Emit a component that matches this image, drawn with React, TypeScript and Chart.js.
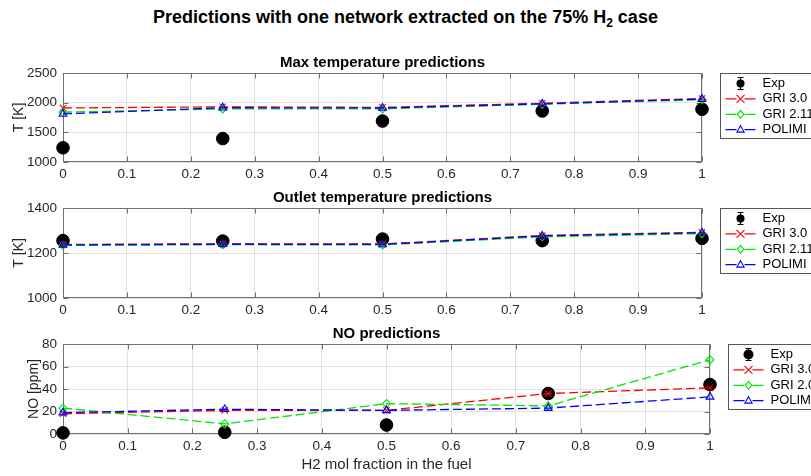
import React, { useEffect, useRef } from "react";
import { Chart, registerables } from "chart.js";

Chart.register(...registerables);

// ---------- data ----------
const h2Fraction = [0, 0.25, 0.5, 0.75, 1];

const maxTExp = [1240, 1395, 1690, 1860, 1890];
const maxTExpErr = [15, 15, 15, 15, 15];
const maxTGri30 = [1910, 1930, 1920, 1990, 2070];
const maxTGri211 = [1840, 1895, 1895, 1975, 2050];
const maxTPolimi = [1810, 1915, 1910, 1980, 2060];

const outTExp = [1255, 1253, 1262, 1255, 1265];
const outTExpErr = [5, 5, 5, 5, 5];
const outTGri30 = [1238, 1241, 1240, 1278, 1292];
const outTGri211 = [1234, 1237, 1236, 1272, 1286];
const outTPolimi = [1236, 1239, 1238, 1276, 1290];

const noExp = [1, 1.5, 8, 36, 44];
const noExpErr = [3, 3, 3, 4, 4];
const noGri30 = [18, 21, 21, 36, 41];
const noGri20 = [23, 9, 27, 25, 66];
const noPolimi = [19, 22, 21, 23, 33];

const legendTemp = ["Exp", "GRI 3.0", "GRI 2.11", "POLIMI"];
const legendNO = ["Exp", "GRI 3.0", "GRI 2.0", "POLIMI"];

const mainTitle = "Predictions with one network extracted on the 75% H";
const mainTitleSub = "2";
const mainTitleEnd = " case";
const xAxisLabel = "H2 mol fraction in the fuel";

// ---------- styles ----------
const FONT = '"Liberation Sans", Arial, Helvetica, sans-serif';
const BOX = "#707070";
const GRID = "rgba(0,0,0,0.11)";
const RED = "#ff0000";
const GREEN = "#00e600";
const BLUE = "#0000ff";
const DASH = [9, 4];

type Panel = {
  top: number;
  height: number;
  padTop: number;
  xHeight: number;
  padRight: number;
  yMin: number;
  yMax: number;
  yStep: number;
  title: string;
  yLabel: string;
  yLabelX: number;
  xLabel?: string;
  exp: number[];
  err: number[];
  gri30: number[];
  gri2: number[];
  polimi: number[];
  labels: string[];
  legendExpR: number;
};

const panels: Panel[] = [
  {
    top: 40, height: 150, padTop: 33, xHeight: 28, padRight: 109,
    yMin: 1000, yMax: 2500, yStep: 500,
    title: "Max temperature predictions", yLabel: "T [K]", yLabelX: 19,
    exp: maxTExp, err: maxTExpErr, gri30: maxTGri30, gri2: maxTGri211, polimi: maxTPolimi,
    labels: legendTemp, legendExpR: 4,
  },
  {
    top: 180, height: 140, padTop: 28, xHeight: 22, padRight: 109,
    yMin: 1000, yMax: 1400, yStep: 200,
    title: "Outlet temperature predictions", yLabel: "T [K]", yLabelX: 19,
    exp: outTExp, err: outTExpErr, gri30: outTGri30, gri2: outTGri211, polimi: outTPolimi,
    labels: legendTemp, legendExpR: 4,
  },
  {
    top: 320, height: 156, padTop: 24, xHeight: 42, padRight: 101,
    yMin: 0, yMax: 80, yStep: 20,
    title: "NO predictions", yLabel: "NO [ppm]", yLabelX: 34, xLabel: xAxisLabel,
    exp: noExp, err: noExpErr, gri30: noGri30, gri2: noGri20, polimi: noPolimi,
    labels: legendNO, legendExpR: 5,
  },
];

function drawMarker(ctx: CanvasRenderingContext2D, kind: string, x: number, y: number, r: number, color: string) {
  ctx.save();
  ctx.setLineDash([]);
  ctx.strokeStyle = color;
  ctx.fillStyle = color;
  ctx.lineWidth = 1.1;
  ctx.beginPath();
  if (kind === "circle") {
    ctx.arc(x, y, r, 0, Math.PI * 2);
    ctx.fill();
  } else if (kind === "cross") {
    ctx.moveTo(x - r, y - r); ctx.lineTo(x + r, y + r);
    ctx.moveTo(x - r, y + r); ctx.lineTo(x + r, y - r);
    ctx.stroke();
  } else if (kind === "diamond") {
    ctx.moveTo(x, y - r); ctx.lineTo(x + r * 0.8, y); ctx.lineTo(x, y + r); ctx.lineTo(x - r * 0.8, y);
    ctx.closePath();
    ctx.stroke();
  } else if (kind === "triangle") {
    ctx.moveTo(x, y - r); ctx.lineTo(x + r * 0.9, y + r * 0.6); ctx.lineTo(x - r * 0.9, y + r * 0.6);
    ctx.closePath();
    ctx.stroke();
  }
  ctx.restore();
}

const decorPlugin = {
  id: "decor",
  beforeDatasetsDraw(chart: any) {
    const { ctx, chartArea: ca, scales } = chart;
    const L = Math.round(ca.left) + 0.5, R = Math.round(ca.right) - 0.5;
    const T = Math.round(ca.top) + 0.5, B = Math.round(ca.bottom) - 0.5;
    ctx.save();
    ctx.strokeStyle = BOX;
    ctx.lineWidth = 1;
    ctx.strokeRect(L, T, R - L, B - T);
    const tl = 5;
    ctx.beginPath();
    scales.x.ticks.forEach((t: any) => {
      const px = Math.round(scales.x.getPixelForValue(t.value)) + 0.5;
      ctx.moveTo(px, B); ctx.lineTo(px, B - tl);
      ctx.moveTo(px, T); ctx.lineTo(px, T + tl);
    });
    scales.y.ticks.forEach((t: any) => {
      const py = Math.round(scales.y.getPixelForValue(t.value)) + 0.5;
      ctx.moveTo(L, py); ctx.lineTo(L + tl, py);
      ctx.moveTo(R, py); ctx.lineTo(R - tl, py);
    });
    ctx.stroke();
    ctx.restore();
  },
  afterDatasetDraw(chart: any, args: any, opts: any) {
    if (args.index !== 0) return;
    const { ctx, scales } = chart;
    const meta = chart.getDatasetMeta(0);
    ctx.save();
    ctx.strokeStyle = "#000";
    ctx.lineWidth = 1.5;
    const cap = 4;
    (opts.exp as number[]).forEach((v, i) => {
      const e = opts.err[i];
      const px = meta.data[i].x;
      const y1 = scales.y.getPixelForValue(v - e);
      const y2 = scales.y.getPixelForValue(v + e);
      ctx.beginPath();
      ctx.moveTo(px, y1); ctx.lineTo(px, y2);
      ctx.moveTo(px - cap, y1); ctx.lineTo(px + cap, y1);
      ctx.moveTo(px - cap, y2); ctx.lineTo(px + cap, y2);
      ctx.stroke();
    });
    ctx.restore();
  },
  afterDraw(chart: any, _args: any, opts: any) {
    const { ctx, chartArea: ca } = chart;
    ctx.save();
    // subplot title
    ctx.fillStyle = "#000";
    ctx.font = `bold 15px ${FONT}`;
    ctx.textAlign = "center";
    ctx.textBaseline = "middle";
    ctx.fillText(opts.title, (ca.left + ca.right) / 2, ca.top - 10);
    // y label
    ctx.save();
    ctx.fillStyle = "#262626";
    ctx.font = `14px ${FONT}`;
    ctx.translate(opts.yLabelX, (ca.top + ca.bottom) / 2);
    ctx.rotate(-Math.PI / 2);
    ctx.fillText(opts.yLabel, 0, 0);
    ctx.restore();
    // x label
    if (opts.xLabel) {
      ctx.fillStyle = "#262626";
      ctx.font = `15px ${FONT}`;
      ctx.fillText(opts.xLabel, (ca.left + ca.right) / 2, ca.bottom + 31);
    }
    // legend
    const lx = Math.round(ca.right) + 18.5;
    const ly = Math.round(ca.top) + 0.5;
    const lw = 130, lh = 65;
    ctx.fillStyle = "#fff";
    ctx.fillRect(lx, ly, lw, lh);
    ctx.strokeStyle = "#555";
    ctx.lineWidth = 1;
    ctx.strokeRect(lx, ly, lw, lh);
    const colors = ["#000", RED, GREEN, BLUE];
    const kinds = ["circle", "cross", "diamond", "triangle"];
    (opts.labels as string[]).forEach((lab, i) => {
      const ry = ly + 10 + i * 15.4;
      const mx = lx + 20;
      if (i === 0) {
        ctx.strokeStyle = "#000";
        ctx.lineWidth = 1.2;
        ctx.beginPath();
        ctx.moveTo(mx, ry - 6); ctx.lineTo(mx, ry + 6);
        ctx.moveTo(mx - 3, ry - 6); ctx.lineTo(mx + 3, ry - 6);
        ctx.moveTo(mx - 3, ry + 6); ctx.lineTo(mx + 3, ry + 6);
        ctx.stroke();
        drawMarker(ctx, "circle", mx, ry, opts.legendExpR, "#000");
      } else {
        ctx.strokeStyle = colors[i];
        ctx.lineWidth = 1.2;
        ctx.beginPath();
        ctx.moveTo(lx + 5, ry); ctx.lineTo(lx + 16, ry);
        ctx.moveTo(lx + 24, ry); ctx.lineTo(lx + 35, ry);
        ctx.stroke();
        drawMarker(ctx, kinds[i], mx, ry, 4, colors[i]);
      }
      ctx.fillStyle = "#000";
      ctx.font = `13px ${FONT}`;
      ctx.textAlign = "left";
      ctx.textBaseline = "middle";
      ctx.fillText(lab, lx + 42, ry);
    });
    ctx.restore();
  },
};

function toXY(vals: number[]) {
  return vals.map((v, i) => ({ x: h2Fraction[i], y: v }));
}

function SubPlot({ p }: { p: Panel }) {
  const ref = useRef<HTMLCanvasElement | null>(null);
  useEffect(() => {
    if (!ref.current) return;
    const lineDs = (label: string, data: number[], color: string, style: string, order: number, radius: number) => ({
      label,
      data: toXY(data),
      showLine: true,
      borderColor: color,
      borderWidth: 1.3,
      borderDash: DASH,
      pointStyle: style,
      pointRadius: radius,
      pointBorderColor: color,
      pointBackgroundColor: "rgba(0,0,0,0)",
      pointBorderWidth: 1.1,
      clip: false,
      order,
    });
    const chart = new Chart(ref.current, {
      type: "scatter",
      data: {
        datasets: [
          {
            label: p.labels[0],
            data: toXY(p.exp),
            showLine: false,
            pointStyle: "circle",
            pointRadius: 6.3,
            pointBackgroundColor: "#000",
            pointBorderColor: "#000",
            clip: false,
            order: 4,
          } as any,
          lineDs(p.labels[1], p.gri30, RED, "crossRot", 3, 4.5),
          lineDs(p.labels[2], p.gri2, GREEN, "rectRot", 2, 4),
          lineDs(p.labels[3], p.polimi, BLUE, "triangle", 1, 4.5),
        ],
      },
      plugins: [decorPlugin as any],
      options: {
        animation: false,
        responsive: false,
        maintainAspectRatio: false,
        events: [],
        layout: { padding: { left: 0, right: p.padRight, top: p.padTop, bottom: 0 } },
        plugins: {
          legend: { display: false },
          tooltip: { enabled: false },
          title: { display: false },
          decor: {
            title: p.title,
            yLabel: p.yLabel,
            yLabelX: p.yLabelX,
            xLabel: p.xLabel,
            labels: p.labels,
            exp: p.exp,
            err: p.err,
            legendExpR: p.legendExpR,
          },
        } as any,
        scales: {
          x: {
            type: "linear",
            min: 0,
            max: 1,
            ticks: {
              stepSize: 0.1,
              padding: 4,
              color: "#262626",
              font: { size: 13.5, family: FONT },
              maxRotation: 0,
              callback: (v: any) => String(Number(Number(v).toFixed(1))),
            },
            grid: { color: GRID, drawTicks: false },
            border: { display: false },
            afterFit: (s: any) => { s.height = p.xHeight; },
          },
          y: {
            type: "linear",
            min: p.yMin,
            max: p.yMax,
            ticks: {
              stepSize: p.yStep,
              padding: 6,
              color: "#262626",
              font: { size: 13.5, family: FONT },
              callback: (v: any) => String(v),
            },
            grid: { color: GRID, drawTicks: false },
            border: { display: false },
            afterFit: (s: any) => { s.width = 63; },
          },
        },
      } as any,
    });
    return () => chart.destroy();
  }, [p]);
  return (
    <div style={{ position: "absolute", left: 0, top: p.top, width: 811, height: p.height }}>
      <canvas ref={ref} width={811} height={p.height} style={{ width: 811, height: p.height, display: "block" }} />
    </div>
  );
}

export default function App() {
  return (
    <div style={{ position: "absolute", left: 0, top: 0, width: 811, height: 476, background: "#fff", overflow: "hidden" }}>
      <div
        style={{
          position: "absolute",
          left: 0,
          top: 5,
          width: 811,
          textAlign: "center",
          font: `bold 18px ${FONT}`,
          color: "#000",
          lineHeight: "24px",
          whiteSpace: "nowrap",
        }}
      >
        {mainTitle}
        <sub style={{ fontSize: "12px", verticalAlign: "-4px" }}>{mainTitleSub}</sub>
        {mainTitleEnd}
      </div>
      {panels.map((p, i) => (
        <SubPlot key={i} p={p} />
      ))}
    </div>
  );
}
